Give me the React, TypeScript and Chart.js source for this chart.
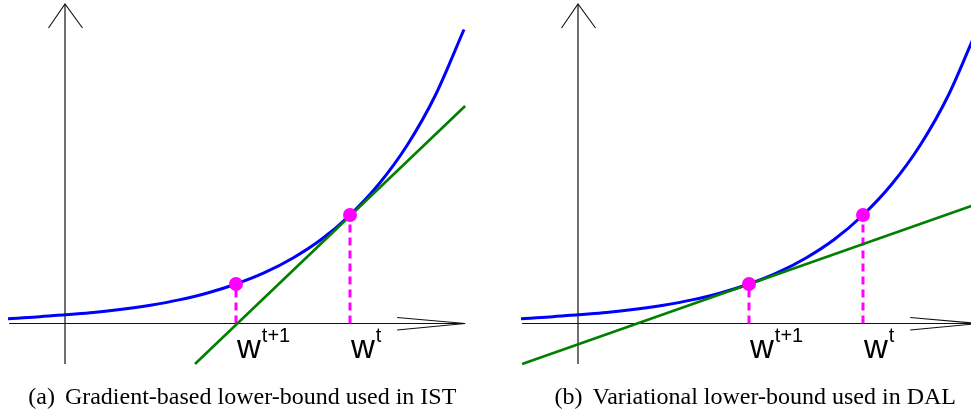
import React, { useEffect, useRef } from "react";
import { Chart, registerables } from "chart.js";

Chart.register(...registerables);

// ---- data ----
// convex curve f(w)
const curveX = [-1, -0.5, 0, 0.5, 1, 1.5, 2, 2.5, 3, 3.5, 4, 4.5, 5, 5.5, 6, 6.5, 7];
const curveY = [0.48, 0.65, 0.88, 1.1, 1.42, 1.83, 2.36, 3.05, 3.95, 5.08, 6.55, 8.42, 10.85, 13.9, 17.8, 22.85, 29.4];

// iterates w^{t+1}, w^t
const iterateX = [3, 5];
const iterateY = [3.95, 10.85];
const iterateSup = ["t+1", "t"];

// lower bounds (green lines), one per panel
const boundX = [
  [2.28, 7.02],
  [-0.98, 6.9],
];
const boundY = [
  [-4.05, 21.75],
  [-4.05, 11.75],
];

// panel captions
const panelTags = ["(a)", "(b)"];
const captions = ["Gradient-based lower-bound used in IST", "Variational lower-bound used in DAL"];

// axis extents
const xAxisRange = [-0.98, 7.02];
const yAxisRange = [-4.05, 31.95];
const captionCenterX = 3.11;

// view windows of the two panels
const panelXMin = [-1.1404, -1.6316];
const panelXMax = [7.3684, 6.8947];
const viewYMin = -8.85;
const viewYMax = 32.35;
const panelLeft = [0, 485];
const panelWidth = [485, 486];
const panelHeight = 412;

const BLUE = "#0000ff";
const GREEN = "#007f00";
const MAGENTA = "#ff00ff";

function makeOverlay(p: number) {
  return {
    id: "overlay" + p,
    beforeDatasetsDraw(chart: any) {
      const { ctx } = chart;
      const xs = chart.scales.x;
      const ys = chart.scales.y;
      const x0 = xs.getPixelForValue(0);
      const y0 = ys.getPixelForValue(0);
      const xa = xs.getPixelForValue(xAxisRange[0]);
      const xb = xs.getPixelForValue(xAxisRange[1]);
      const ya = ys.getPixelForValue(yAxisRange[0]);
      const yb = ys.getPixelForValue(yAxisRange[1]);
      ctx.save();
      ctx.strokeStyle = "#111";
      ctx.lineWidth = 1.2;
      ctx.beginPath();
      ctx.moveTo(xa, y0);
      ctx.lineTo(xb, y0);
      ctx.moveTo(x0, ya);
      ctx.lineTo(x0, yb);
      ctx.stroke();
      ctx.lineWidth = 1.1;
      ctx.beginPath();
      ctx.moveTo(x0 - 16.5, yb + 24);
      ctx.lineTo(x0, yb);
      ctx.lineTo(x0 + 17.5, yb + 24);
      ctx.moveTo(xb - 68, y0 - 6);
      ctx.lineTo(xb, y0);
      ctx.moveTo(xb - 68, y0 + 6.5);
      ctx.lineTo(xb, y0);
      ctx.stroke();
      ctx.restore();
    },
    afterDatasetsDraw(chart: any) {
      const { ctx } = chart;
      const xs = chart.scales.x;
      const ys = chart.scales.y;
      const y0 = ys.getPixelForValue(0);
      ctx.save();
      ctx.fillStyle = "#000";
      ctx.textAlign = "left";
      ctx.textBaseline = "alphabetic";
      for (let i = 0; i < iterateX.length; i++) {
        const px = xs.getPixelForValue(iterateX[i]) + 1;
        ctx.font = "33px 'Liberation Sans', Arial, sans-serif";
        ctx.fillText("w", px, y0 + 34.5);
        const ww = ctx.measureText("w").width;
        ctx.font = "20px 'Liberation Sans', Arial, sans-serif";
        ctx.fillText(iterateSup[i], px + ww + 1, y0 + 18.5);
      }
      ctx.font = "24px 'Liberation Serif', 'Times New Roman', serif";
      const tag = panelTags[p];
      const rest = captions[p];
      const gap = 10;
      const wTag = ctx.measureText(tag).width;
      const wRest = ctx.measureText(rest).width;
      const total = wTag + gap + wRest;
      const cx = xs.getPixelForValue(captionCenterX);
      const startX = cx - total / 2;
      ctx.fillText(tag, startX, y0 + 80);
      ctx.fillText(rest, startX + wTag + gap, y0 + 80);
      ctx.restore();
    },
  };
}

function Panel({ p }: { p: number }) {
  const ref = useRef<HTMLCanvasElement | null>(null);
  useEffect(() => {
    if (!ref.current) return;
    const curve = curveX.map((x, i) => ({ x, y: curveY[i] }));
    const bound = boundX[p].map((x, i) => ({ x, y: boundY[p][i] }));
    const dots = iterateX.map((x, i) => ({ x, y: iterateY[i] }));
    const drops = iterateX.map((x, i) => ({
      type: "scatter",
      data: [
        { x, y: 0 },
        { x, y: iterateY[i] },
      ],
      showLine: true,
      borderColor: MAGENTA,
      borderWidth: 3,
      borderDash: [8, 5],
      pointRadius: 0,
      fill: false,
    }));
    const chart = new Chart(ref.current, {
      type: "scatter",
      data: {
        datasets: [
          {
            data: dots,
            showLine: false,
            pointRadius: 7,
            pointBackgroundColor: MAGENTA,
            pointBorderWidth: 0,
            pointBorderColor: MAGENTA,
          },
          {
            data: bound,
            showLine: true,
            borderColor: GREEN,
            borderWidth: 2.6,
            pointRadius: 0,
          },
          {
            data: curve,
            showLine: true,
            borderColor: BLUE,
            borderWidth: 3,
            pointRadius: 0,
            tension: 0.4,
            cubicInterpolationMode: "monotone",
          },
          ...drops,
        ] as any,
      },
      options: {
        animation: false,
        responsive: false,
        events: [],
        layout: { padding: 0, autoPadding: false },
        plugins: {
          legend: { display: false },
          tooltip: { enabled: false },
        },
        scales: {
          x: { type: "linear", display: false, min: panelXMin[p], max: panelXMax[p] },
          y: { type: "linear", display: false, min: viewYMin, max: viewYMax },
        },
      },
      plugins: [makeOverlay(p)],
    });
    return () => chart.destroy();
  }, [p]);
  return (
    <canvas
      ref={ref}
      width={panelWidth[p]}
      height={panelHeight}
      style={{
        position: "absolute",
        left: panelLeft[p],
        top: 0,
        width: panelWidth[p],
        height: panelHeight,
      }}
    />
  );
}

export default function App() {
  return (
    <div
      style={{
        position: "absolute",
        left: 0,
        top: 0,
        width: 971,
        height: 412,
        background: "#fff",
        overflow: "hidden",
      }}
    >
      <Panel p={0} />
      <Panel p={1} />
    </div>
  );
}
